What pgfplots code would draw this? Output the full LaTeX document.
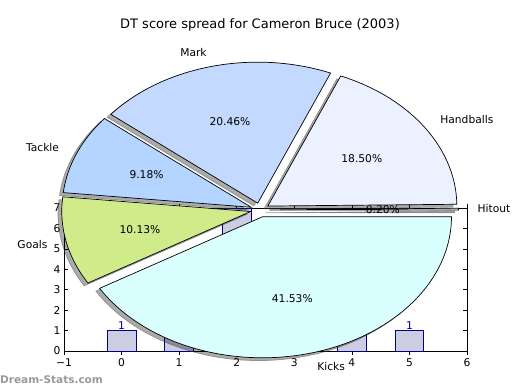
\documentclass[border=0pt]{standalone}
\usepackage{pgfplots}
\pgfplotsset{compat=1.18}
\usepackage{fontspec}
\setmainfont{DejaVu Sans}
\definecolor{kickc}{HTML}{D9FFFF}
\definecolor{handc}{HTML}{EBF1FF}
\definecolor{markc}{HTML}{C4D9FF}
\definecolor{tackc}{HTML}{B3D5FF}
\definecolor{goalc}{HTML}{CFEB8A}
\definecolor{hitc}{HTML}{FFFFFF}
\definecolor{barc}{HTML}{CCCCE3}
\definecolor{navyc}{HTML}{000080}
\newcommand{\lblfont}{\fontsize{10.7}{12}\selectfont}
\tikzset{pielabel/.style={font=\lblfont, inner sep=0pt}}
% running cumulative percentage
\gdef\cum{0}
\newcommand{\angles}[1]{%
  \pgfmathsetmacro\aA{3.6*\cum}%
  \pgfmathsetmacro\newcum{\cum+#1}%
  \xdef\cum{\newcum}%
  \pgfmathsetmacro\aB{3.6*\cum}%
  \pgfmathsetmacro\aM{(\aA+\aB)/2}%
}
\newcommand{\pieshadow}[1]{%
  \angles{#1}%
  \pgfmathsetmacro\ex{0.05*cos(\aM)-0.02}%
  \pgfmathsetmacro\ey{0.05*sin(\aM)-0.02}%
  \edef\tmp{\noexpand\addplot[fill=black, fill opacity=0.33, draw=black!70, draw opacity=0.45, line width=0.7pt, domain=\aA:\aB, samples=90] ({\ex+cos(x)},{\ey+sin(x)}) -- (axis cs:\ex,\ey) -- cycle;}\tmp
}
\newcommand{\pieslice}[4]{% pct, color, label, pct text
  \angles{#1}%
  \pgfmathsetmacro\ex{0.05*cos(\aM)}%
  \pgfmathsetmacro\ey{0.05*sin(\aM)}%
  \edef\tmp{\noexpand\addplot[fill=#2, draw=black, line width=0.7pt, domain=\aA:\aB, samples=90] ({\ex+cos(x)},{\ey+sin(x)}) -- (axis cs:\ex,\ey) -- cycle;}\tmp
  \pgfmathsetmacro\lx{1.15*cos(\aM)}%
  \pgfmathsetmacro\ly{1.15*sin(\aM)}%
  \pgfmathsetmacro\px{0.65*cos(\aM)}%
  \pgfmathsetmacro\py{0.65*sin(\aM)}%
  \ifdim\lx pt>0pt \def\anc{west}\else\def\anc{east}\fi
  \edef\tmp{\noexpand\node[pielabel, anchor=\anc] at (axis cs:\lx,\ly) {#3};
    \noexpand\node[pielabel] at (axis cs:\px,\py) {#4};}\tmp
}
\begin{document}
\begin{tikzpicture}[x=1pt,y=1pt]
\path[use as bounding box] (0,0) rectangle (520,390);
% bar chart underneath
\begin{axis}[
  at={(64pt,39pt)}, anchor=south west,
  width=403pt, height=143pt, scale only axis,
  xmin=-1, xmax=6, ymin=0, ymax=7,
  xtick={-1,0,1,2,3,4,5,6},
  xticklabels={−1,0,1,2,3,4,5,6},
  ytick={0,1,2,3,4,5,6,7},
  tick align=inside, major tick length=4pt,
  tick style={black, line width=0.6pt},
  axis line style={line width=0.8pt},
  ticklabel style={font=\lblfont},
  /pgf/number format/assume math mode=true,
  ybar, bar width=0.5,
  nodes near coords,
  nodes near coords style={font=\lblfont, text=navyc, inner sep=0.5pt},
  clip=false,
]
\addplot[fill=barc, draw=navyc, line width=0.7pt] coordinates {(0,1) (1,1) (2,7) (3,1) (4,1) (5,1)};
\end{axis}
% pie chart on top
\begin{axis}[
  at={(260pt,180pt)}, anchor=center,
  width=378pt, height=282pt, scale only axis,
  xmin=-1, xmax=1, ymin=-1, ymax=1,
  hide axis, clip=false,
]
\gdef\cum{0}
\pieshadow{0.20}
\pieshadow{18.50}
\pieshadow{20.46}
\pieshadow{9.18}
\pieshadow{10.13}
\pieshadow{41.53}
\gdef\cum{0}
\pieslice{0.20}{hitc}{Hitout}{0.20\%}
\pieslice{18.50}{handc}{Handballs}{18.50\%}
\pieslice{20.46}{markc}{Mark}{20.46\%}
\pieslice{9.18}{tackc}{Tackle}{9.18\%}
\pieslice{10.13}{goalc}{Goals}{10.13\%}
\pieslice{41.53}{kickc}{Kicks}{41.53\%}
\end{axis}
\node[font=\fontsize{13}{15}\selectfont] at (260,365) {DT score spread for Cameron Bruce (2003)};
\node[anchor=west, inner sep=0pt, text=black!40, font=\bfseries\fontsize{10.5}{13}\selectfont] at (0,10) {Dream-Stats.com};
\end{tikzpicture}
\end{document}
